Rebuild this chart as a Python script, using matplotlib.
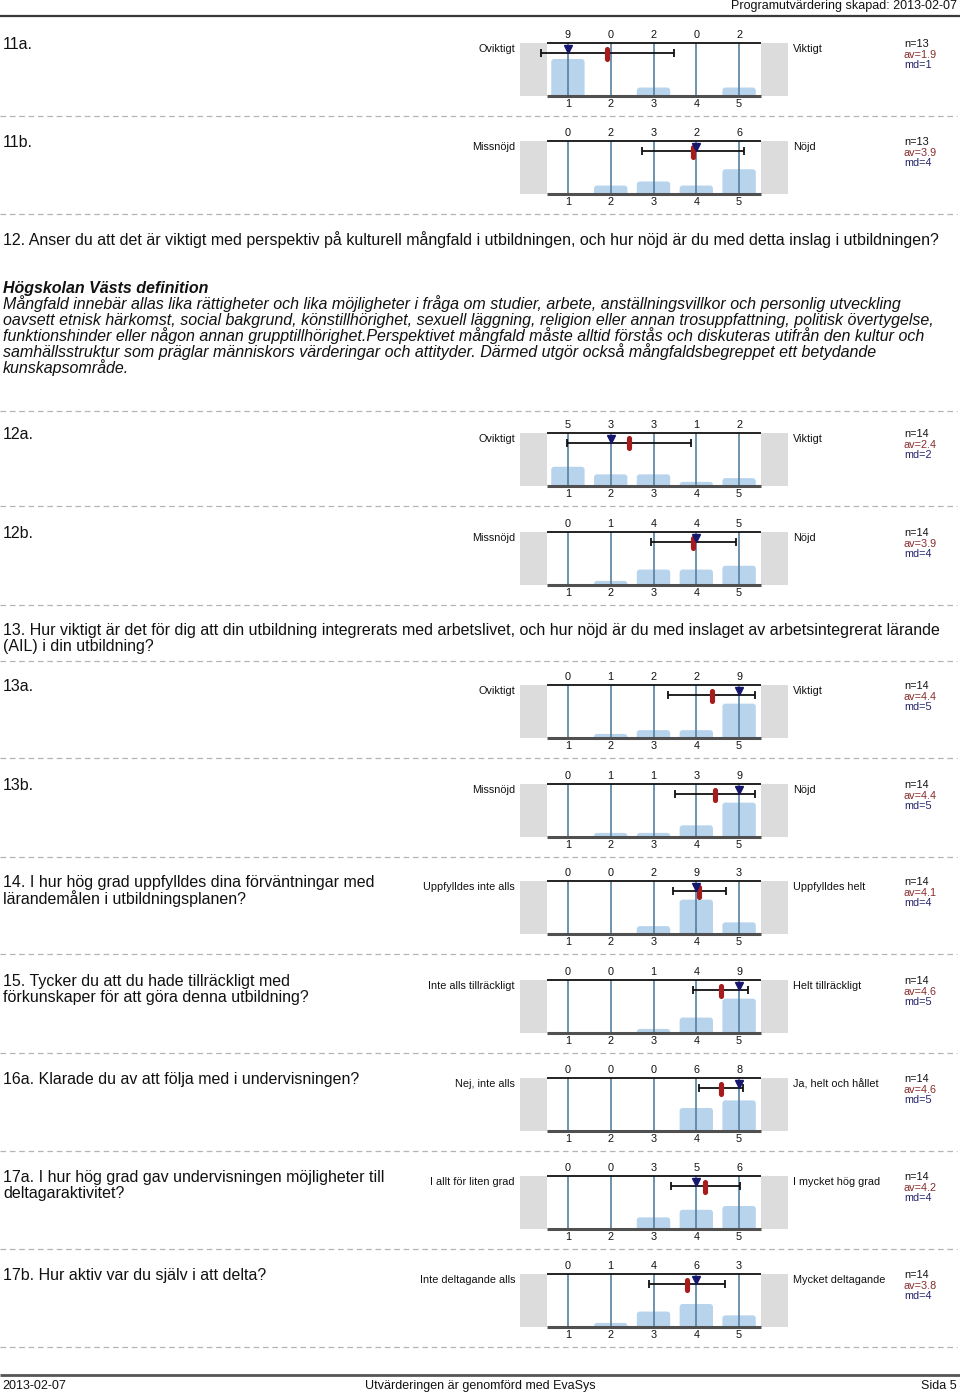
import matplotlib
matplotlib.use("Agg")
import matplotlib.pyplot as plt
import numpy as np
from matplotlib.patches import FancyBboxPatch, Rectangle

plt.rcParams['font.family'] = ['Liberation Sans', 'DejaVu Sans']

# ---------------- data ----------------
item_ids = ["11a", "11b", "12a", "12b", "13a", "13b", "14", "15", "16a", "17a", "17b"]
counts = [
    [9, 0, 2, 0, 2],
    [0, 2, 3, 2, 6],
    [5, 3, 3, 1, 2],
    [0, 1, 4, 4, 5],
    [0, 1, 2, 2, 9],
    [0, 1, 1, 3, 9],
    [0, 0, 2, 9, 3],
    [0, 0, 1, 4, 9],
    [0, 0, 0, 6, 8],
    [0, 0, 3, 5, 6],
    [0, 1, 4, 6, 3],
]
n_values = [13, 13, 14, 14, 14, 14, 14, 14, 14, 14, 14]
av_values = [1.9, 3.9, 2.4, 3.9, 4.4, 4.4, 4.1, 4.6, 4.6, 4.2, 3.8]
md_values = [1, 4, 2, 4, 5, 5, 4, 5, 5, 4, 4]
left_labels = ["Oviktigt", "Missnöjd", "Oviktigt", "Missnöjd", "Oviktigt", "Missnöjd",
               "Uppfylldes inte alls", "Inte alls tillräckligt", "Nej, inte alls",
               "I allt för liten grad", "Inte deltagande alls"]
right_labels = ["Viktigt", "Nöjd", "Viktigt", "Nöjd", "Viktigt", "Nöjd",
                "Uppfylldes helt", "Helt tillräckligt", "Ja, helt och hållet",
                "I mycket hög grad", "Mycket deltagande"]
item_titles = [
    ["11a."], ["11b."], ["12a."], ["12b."], ["13a."], ["13b."],
    ["14. I hur hög grad uppfylldes dina förväntningar med", "lärandemålen i utbildningsplanen?"],
    ["15. Tycker du att du hade tillräckligt med", "förkunskaper för att göra denna utbildning?"],
    ["16a. Klarade du av att följa med i undervisningen?"],
    ["17a. I hur hög grad gav undervisningen möjligheter till", "deltagaraktivitet?"],
    ["17b. Hur aktiv var du själv i att delta?"],
]
scale_ticks = [1, 2, 3, 4, 5]

q12_text = "12. Anser du att det är viktigt med perspektiv på kulturell mångfald i utbildningen, och hur nöjd är du med detta inslag i utbildningen?"
def_title = "Högskolan Västs definition"
def_lines = [
    "Mångfald innebär allas lika rättigheter och lika möjligheter i fråga om studier, arbete, anställningsvillkor och personlig utveckling",
    "oavsett etnisk härkomst, social bakgrund, könstillhörighet, sexuell läggning, religion eller annan trosuppfattning, politisk övertygelse,",
    "funktionshinder eller någon annan grupptillhörighet.Perspektivet mångfald måste alltid förstås och diskuteras utifrån den kultur och",
    "samhällsstruktur som präglar människors värderingar och attityder. Därmed utgör också mångfaldsbegreppet ett betydande",
    "kunskapsområde.",
]
q13_lines = ["13. Hur viktigt är det för dig att din utbildning integrerats med arbetslivet, och hur nöjd är du med inslaget av arbetsintegrerat lärande",
             "(AIL) i din utbildning?"]
header_text = "Programutvärdering skapad: 2013-02-07"
footer_left = "2013-02-07"
footer_mid = "Utvärderingen är genomförd med EvaSys"
footer_right = "Sida 5"

# ---------------- layout (pixels) ----------------
W, H = 960, 1395
fig = plt.figure(figsize=(W / 100, H / 100), dpi=100)
bg = fig.add_axes([0, 0, 1, 1])
bg.set_xlim(0, W)
bg.set_ylim(H, 0)
bg.axis('off')

top_lines = [42.7, 140.7, 432.7, 531.7, 684.7, 783.7, 880.7, 979.7, 1077.7, 1175.7, 1273.7]
PH = 53.0           # plot height px
X_GREY_L = 520.0
X_PLOT_L = 546.5
X_PLOT_R = 760.5
X_GREY_R = 788.0
unit = (X_PLOT_R - X_PLOT_L) / 5.0

FS_Q = 11.5
FS_SMALL = 7.8

C_BAR = '#b8d4ed'
C_VLINE = '#56809f'
C_GREY = '#dcdcdc'
C_MEAN = '#a61b1b'
C_MED = '#16166e'
C_AV = '#8a2b2b'
C_MD = '#23236a'
C_DASH = '#b4b4b4'
C_TXT = '#111111'

def dashed(y):
    bg.plot([0, 957], [y, y], color=C_DASH, lw=0.9, ls=(0, (4.5, 3)))

# header
bg.text(957, 6, header_text, ha='right', va='center', fontsize=9, color=C_TXT)
bg.plot([0, W], [16, 16], color='#3a3a3a', lw=1.6, solid_capstyle='butt')

# footer
bg.plot([0, W], [1375, 1375], color='#555555', lw=2.0, solid_capstyle='butt')
bg.text(2, 1386, footer_left, ha='left', va='center', fontsize=9, color=C_TXT)
bg.text(480, 1386, footer_mid, ha='center', va='center', fontsize=9, color=C_TXT)
bg.text(957, 1386, footer_right, ha='right', va='center', fontsize=9, color=C_TXT)

# question 12 and definition
bg.text(3, 240, q12_text, ha='left', va='center', fontsize=FS_Q, color=C_TXT)
bg.text(3, 288, def_title, ha='left', va='center', fontsize=FS_Q, style='italic',
        weight='bold', color=C_TXT)
for i, line in enumerate(def_lines):
    bg.text(3, 304 + 16 * i, line, ha='left', va='center', fontsize=FS_Q,
            style='italic', color=C_TXT)
for i, line in enumerate(q13_lines):
    bg.text(3, 631 + 16 * i, line, ha='left', va='center', fontsize=FS_Q, color=C_TXT)

# dashed separators not tied to a chart
dashed(410.5)
dashed(661)

xmin = 0.5 - (X_PLOT_L - X_GREY_L) / unit
xmax = 5.5 + (X_GREY_R - X_PLOT_R) / unit

for k in range(len(item_ids)):
    yt = top_lines[k]
    c = np.array(counts[k], dtype=float)
    n = n_values[k]
    vals = np.array(scale_ticks, dtype=float)
    mean = (c * vals).sum() / c.sum()
    sd = np.sqrt((c * (vals - mean) ** 2).sum() / (c.sum() - 1))

    ax = fig.add_axes([X_GREY_L / W, 1 - (yt + PH) / H, (X_GREY_R - X_GREY_L) / W, PH / H])
    ax.set_xlim(xmin, xmax)
    ax.set_ylim(0, 1)
    ax.axis('off')

    # grey side boxes
    ax.add_patch(Rectangle((xmin, 0), 0.5 - xmin, 1, color=C_GREY, lw=0, zorder=0))
    ax.add_patch(Rectangle((5.5, 0), xmax - 5.5, 1, color=C_GREY, lw=0, zorder=0))

    # bars with rounded tops
    asp = (1.0 / PH) / (1.0 / unit)
    for xv, cv in zip(scale_ticks, c):
        h = cv / n
        if h <= 0:
            continue
        p = FancyBboxPatch((xv - 0.39, -0.1), 0.78, h + 0.1,
                           boxstyle="round,pad=0,rounding_size=0.07",
                           mutation_aspect=asp, fc=C_BAR, ec='none', zorder=1)
        ax.add_patch(p)

    # vertical category lines
    for xv in scale_ticks:
        ax.plot([xv, xv], [0, 1], color=C_VLINE, lw=1.2, zorder=2)

    # top and bottom lines
    ax.plot([0.5, 5.5], [1, 1], color=C_TXT, lw=1.3, zorder=3, clip_on=False,
            solid_capstyle='butt')
    ax.plot([0.5, 5.5], [0, 0], color='#505050', lw=2.2, zorder=3, clip_on=False,
            solid_capstyle='butt')

    # error bar (mean +- sd)
    ey = 1 - 10.0 / PH
    ax.errorbar([mean], [ey], xerr=[sd], fmt='none', ecolor=C_TXT,
                elinewidth=1.3, capsize=2.8, capthick=1.3, zorder=4, clip_on=False)
    # mean marker
    ax.plot([mean, mean], [1 - 5.8 / PH, 1 - 15.8 / PH], color=C_MEAN, lw=3.7,
            solid_capstyle='round', zorder=5, clip_on=False)
    # median marker
    ax.plot([md_values[k]], [1 - 6.5 / PH], marker='v', ms=5.5, color=C_MED,
            mec=C_MED, zorder=6, clip_on=False)

    # count labels above and scale labels below
    for xv, cv in zip(scale_ticks, counts[k]):
        xp = X_PLOT_L + (xv - 0.5) * unit
        bg.text(xp, yt - 8, str(cv), ha='center', va='center', fontsize=FS_SMALL, color=C_TXT)
        bg.text(xp, yt + PH + 8, str(xv), ha='center', va='center', fontsize=FS_SMALL, color=C_TXT)

    # side labels
    bg.text(515, yt + 6.5, left_labels[k], ha='right', va='center', fontsize=FS_SMALL, color=C_TXT)
    bg.text(793, yt + 6.5, right_labels[k], ha='left', va='center', fontsize=FS_SMALL, color=C_TXT)

    # stats
    bg.text(904, yt + 1.5, f"n={n}", ha='left', va='center', fontsize=FS_SMALL, color=C_TXT)
    bg.text(904, yt + 12, f"av={av_values[k]}", ha='left', va='center', fontsize=FS_SMALL, color=C_AV)
    bg.text(904, yt + 22.5, f"md={md_values[k]}", ha='left', va='center', fontsize=FS_SMALL, color=C_MD)

    # item title
    for i, line in enumerate(item_titles[k]):
        bg.text(3, yt + 1.5 + 16 * i, line, ha='left', va='center', fontsize=FS_Q, color=C_TXT)

    dashed(yt + 73.5)

fig.savefig("out.png", dpi=100)
